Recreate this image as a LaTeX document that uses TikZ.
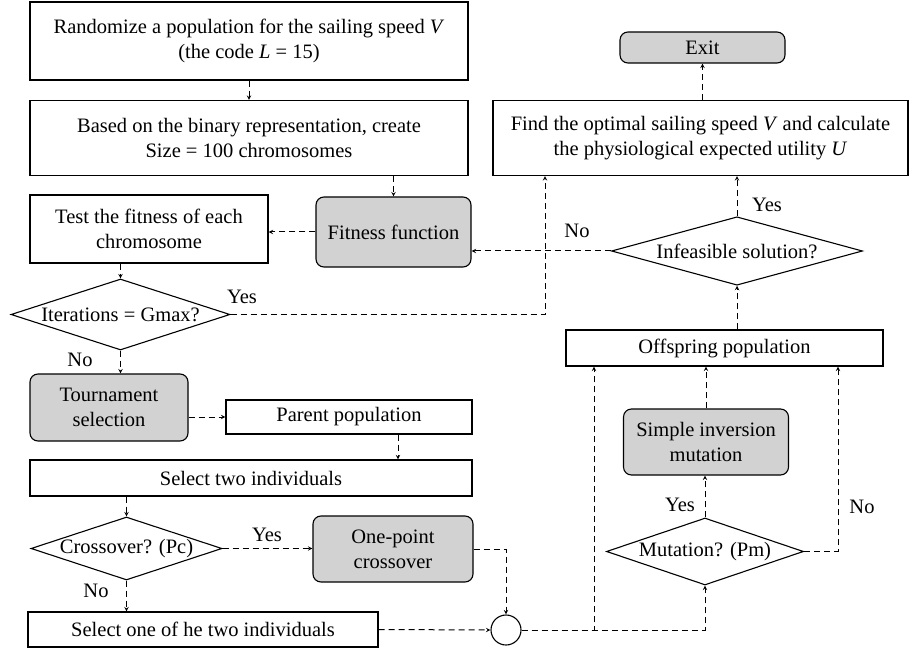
\documentclass[tikz,border=0pt]{standalone}
\usepackage{fontspec}
\setmainfont{Liberation Serif}
\usetikzlibrary{shapes.geometric}

\begin{document}
\begin{tikzpicture}[x=1pt,y=-1pt,
  font=\fontsize{20.5}{25}\selectfont,
  box/.style={draw,line width=1.1pt,align=center,inner sep=0pt},
  gbox/.style={box,rounded corners=8pt,fill=gray!35},
  cond/.style={draw,diamond,line width=1.1pt,inner sep=0pt,aspect=3},
  flow/.style={->,>=stealth,dashed,line width=1pt,dash pattern=on 6pt off 4pt}]
\useasboundingbox (0,0) rectangle (912,652);

\node[box,minimum width=438pt,minimum height=78pt] (rand) at (249,41) {Randomize a population for the sailing speed \textit{V}\\(the code \textit{L} = 15)};

\node[box,minimum width=438pt,minimum height=75pt] (base) at (249,138) {Based on the binary representation, create\\Size = 100 chromosomes};

\node[gbox,minimum width=155pt,minimum height=70pt] (fit) at (393.5,232) {Fitness function};

\node[box,minimum width=238pt,minimum height=68pt] (test) at (149,229) {Test the fitness of each\\chromosome};

\node[cond,minimum width=219pt,minimum height=71pt] (iter) at (120.5,314.5) {Iterations = Gmax?};

\node[gbox,minimum width=158pt,minimum height=67pt] (tour) at (109,407.5) {Tournament\\selection};

\node[box,minimum width=246pt,minimum height=34pt] (par) at (349,417) {Parent population};

\node[box,minimum width=442pt,minimum height=36pt] (sel2) at (251,478) {Select two individuals};

\node[cond,minimum width=191pt,minimum height=63pt] (cross) at (126.5,548.5) {Crossover? (Pc)};

\node[gbox,minimum width=160pt,minimum height=66pt] (one) at (393,549) {One-point\\crossover};

\node[box,minimum width=350pt,minimum height=35pt] (sel1) at (203,629.5) {Select one of he two individuals};

\node[draw,circle,line width=1.1pt,minimum size=30pt,inner sep=0pt] (join) at (506,630) {};

\node[gbox,minimum width=165pt,minimum height=31pt] (exit) at (702.5,47.5) {Exit};

\node[box,minimum width=415pt,minimum height=75pt] (find) at (700.5,138) {Find the optimal sailing speed \textit{V} and calculate\\the physiological expected utility \textit{U}};

\node[cond,minimum width=251pt,minimum height=56pt] (infe) at (737,251) {Infeasible solution?};

\node[box,minimum width=317pt,minimum height=36pt] (off) at (724.5,348) {Offspring population};

\node[gbox,minimum width=165pt,minimum height=66pt] (simp) at (706,442) {Simple inversion\\mutation};

\node[cond,minimum width=197pt,minimum height=67pt] (mut) at (705,551.5) {Mutation? (Pm)};

% labels
\node (y1) at (242,297) {Yes};
\node (n1) at (80,360) {No};
\node (y2) at (267,535) {Yes};
\node (n2) at (96,591) {No};
\node (y3) at (767,205) {Yes};
\node (n3) at (577,231) {No};
\node (y4) at (680,505) {Yes};
\node (n4) at (862,507) {No};

% left column
\draw[flow] (rand) -- (base);
\draw[flow] (fit.north |- base.south) -- (fit.north);
\draw[flow] (fit.west) -- (fit.west -| test.east);
\draw[flow] (test.south -| iter.north) -- (iter.north);
\draw[flow] (iter.east) -| ([xshift=-155.5pt]find.south);
\draw[flow] (iter.south) -- (iter.south |- tour.north);
\draw[flow] (par.west -| tour.east) -- (par.west);
\draw[flow] ([xshift=49pt]par.south) -- ([xshift=49pt]par.south |- sel2.north);
\draw[flow] (cross.north |- sel2.south) -- (cross.north);
\draw[flow] (cross.east) -- (cross.east -| one.west);
\draw[flow] (cross.south) -- (cross.south |- sel1.north);
\draw[flow] (sel1.east) -- (join.west);
\draw[flow] (one.east) -| (join.north);

% right column
\draw[flow] (join.east) -| (mut.south);
\draw[flow] (join.east) -| ([xshift=-130.5pt]off.south);
\draw[flow] (mut.north) -- (mut.north |- simp.south);
\draw[flow] (simp.north) -- (simp.north |- off.south);
\draw[flow] (mut.east) -| ([xshift=113.5pt]off.south);
\draw[flow] (infe.south |- off.north) -- (infe.south);
\draw[flow] (infe.west) -- (infe.west -| fit.east);
\draw[flow] (infe.north) -- (infe.north |- find.south);
\draw[flow] (exit.south |- find.north) -- (exit.south);
\end{tikzpicture}
\end{document}
